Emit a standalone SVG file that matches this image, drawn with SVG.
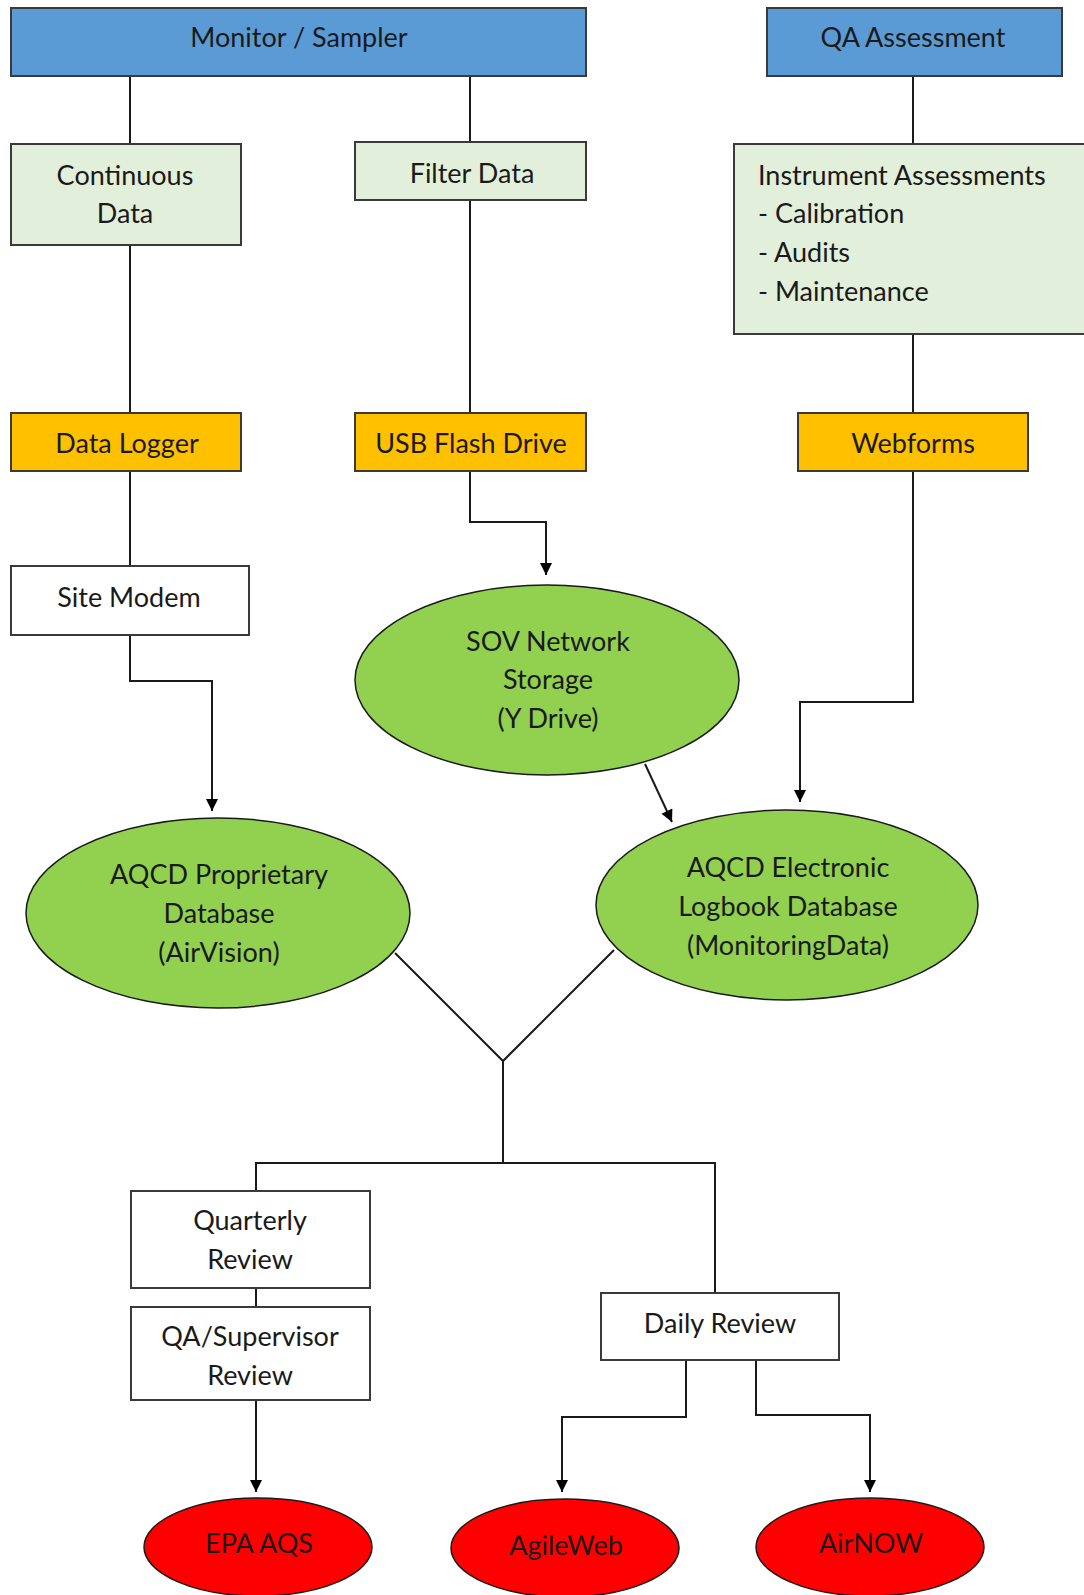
<svg xmlns="http://www.w3.org/2000/svg" width="1084" height="1595" viewBox="0 0 1084 1595">
<defs>
<marker id="arr" viewBox="0 0 10 10" refX="10" refY="5" markerWidth="14" markerHeight="12" markerUnits="userSpaceOnUse" orient="auto">
<path d="M0,0 L10,5 L0,10 z" fill="#000"/>
</marker>
<style>
.t{font-family:Lato,"Liberation Sans",sans-serif;font-size:27px;fill:#1a1a1a;text-anchor:middle}
.tl{font-family:Lato,"Liberation Sans",sans-serif;font-size:27px;fill:#1a1a1a}
.box{stroke:#3a3a3a;stroke-width:2}
.blue{fill:#5B9BD5}
.lg{fill:#E2EFDA}
.or{fill:#FFC000}
.wh{fill:#fff}
.ell{stroke:#1a1a1a;stroke-width:1.5}
.gr{fill:#92D050}
.rd{fill:#FF0000}
.c{fill:none;stroke:#1a1a1a;stroke-width:2}
.ca{fill:none;stroke:#1a1a1a;stroke-width:2;marker-end:url(#arr)}
</style>
</defs>
<rect width="1084" height="1595" fill="#fff"/>
<g id="connectors">
<path class="c" d="M130,76 V144"/>
<path class="c" d="M470,76 V142"/>
<path class="c" d="M130,245 V413"/>
<path class="c" d="M470,200 V413"/>
<path class="c" d="M913,76 V144"/>
<path class="c" d="M913,334 V413"/>
<path class="c" d="M130,471 V566"/>
<path class="ca" d="M470,471 V522 H546 V575"/>
<path class="ca" d="M130,635 V681 H212 V811"/>
<path class="ca" d="M913,471 V702 H800 V802"/>
<path class="ca" d="M645,764 L672,822"/>
<path class="c" d="M395,953 L503,1061 L614,950"/>
<path class="c" d="M503,1061 V1163"/>
<path class="c" d="M256,1191 V1163 H715 V1293"/>
<path class="c" d="M256,1288 V1307"/>
<path class="ca" d="M256,1400 V1492"/>
<path class="ca" d="M686,1360 V1417 H562 V1492"/>
<path class="ca" d="M756,1360 V1415 H870 V1492"/>
</g>
<g id="monitor-sampler">
<rect class="box blue" x="11" y="8" width="575" height="68"/>
<text class="t" x="299" y="47">Monitor / Sampler</text>
</g>
<g id="qa-assessment">
<rect class="box blue" x="767" y="8" width="295" height="68"/>
<text class="t" x="913" y="47">QA Assessment</text>
</g>
<g id="continuous-data">
<rect class="box lg" x="11" y="144" width="230" height="101"/>
<text class="t" x="125" y="185">Continuous</text>
<text class="t" x="125" y="223">Data</text>
</g>
<g id="filter-data">
<rect class="box lg" x="355" y="142" width="231" height="58"/>
<text class="t" x="472" y="183">Filter Data</text>
</g>
<g id="instrument-assessments">
<rect class="box lg" x="734" y="144" width="356" height="190"/>
<text class="tl" x="758" y="185">Instrument Assessments</text>
<text class="tl" x="758" y="223">- Calibration</text>
<text class="tl" x="758" y="262">- Audits</text>
<text class="tl" x="758" y="301">- Maintenance</text>
</g>
<g id="data-logger">
<rect class="box or" x="11" y="413" width="230" height="58"/>
<text class="t" x="127" y="453">Data Logger</text>
</g>
<g id="usb-flash-drive">
<rect class="box or" x="355" y="413" width="231" height="58"/>
<text class="t" x="471" y="453">USB Flash Drive</text>
</g>
<g id="webforms">
<rect class="box or" x="798" y="413" width="230" height="58"/>
<text class="t" x="913" y="453">Webforms</text>
</g>
<g id="site-modem">
<rect class="box wh" x="11" y="566" width="238" height="69"/>
<text class="t" x="129" y="607">Site Modem</text>
</g>
<g id="sov-network-storage">
<ellipse class="ell gr" cx="547" cy="680" rx="192" ry="95"/>
<text class="t" x="548" y="651">SOV Network</text>
<text class="t" x="548" y="689">Storage</text>
<text class="t" x="548" y="728">(Y Drive)</text>
</g>
<g id="aqcd-proprietary">
<ellipse class="ell gr" cx="218" cy="913" rx="192" ry="95"/>
<text class="t" x="219" y="884">AQCD Proprietary</text>
<text class="t" x="219" y="923">Database</text>
<text class="t" x="219" y="962">(AirVision)</text>
</g>
<g id="aqcd-electronic">
<ellipse class="ell gr" cx="787" cy="905" rx="191" ry="95"/>
<text class="t" x="788" y="877">AQCD Electronic</text>
<text class="t" x="788" y="916">Logbook Database</text>
<text class="t" x="788" y="955">(MonitoringData)</text>
</g>
<g id="quarterly-review">
<rect class="box wh" x="131" y="1191" width="239" height="97"/>
<text class="t" x="250" y="1230">Quarterly</text>
<text class="t" x="250" y="1269">Review</text>
</g>
<g id="qa-supervisor-review">
<rect class="box wh" x="131" y="1307" width="239" height="93"/>
<text class="t" x="250" y="1346">QA/Supervisor</text>
<text class="t" x="250" y="1385">Review</text>
</g>
<g id="daily-review">
<rect class="box wh" x="601" y="1293" width="238" height="67"/>
<text class="t" x="720" y="1333">Daily Review</text>
</g>
<g id="epa-aqs">
<ellipse class="ell rd" cx="258" cy="1547" rx="114" ry="49"/>
<text class="t" x="259" y="1553">EPA AQS</text>
</g>
<g id="agileweb">
<ellipse class="ell rd" cx="565" cy="1548" rx="114" ry="49"/>
<text class="t" x="566" y="1555">AgileWeb</text>
</g>
<g id="airnow">
<ellipse class="ell rd" cx="870" cy="1547" rx="114" ry="49"/>
<text class="t" x="871" y="1553">AirNOW</text>
</g>
</svg>
